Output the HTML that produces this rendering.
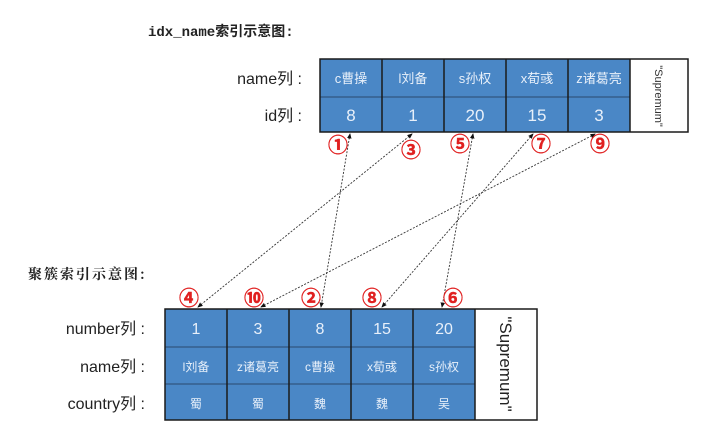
<!DOCTYPE html>
<html><head><meta charset="utf-8"><style>
body{margin:0;background:#fff;width:720px;height:439px;overflow:hidden}
svg text{font-family:"Liberation Sans","Noto Sans CJK SC",sans-serif}
</style></head><body>
<svg width="720" height="439" viewBox="0 0 720 439" xmlns="http://www.w3.org/2000/svg">
<defs>
<marker id="a" markerWidth="6" markerHeight="6" refX="5" refY="3" orient="auto"><path d="M0,0.5 L6,3 L0,5.5z" fill="#111"/></marker>
<marker id="b" markerWidth="6" markerHeight="6" refX="1" refY="3" orient="auto"><path d="M6,0.5 L0,3 L6,5.5z" fill="#111"/></marker>
</defs>
<text x="148" y="36" font-size="14" font-weight="bold" style="font-family:'Liberation Mono','Noto Sans CJK SC',monospace" fill="#222">idx_name索引示意图:</text>
<text x="28" y="279" font-size="14" font-weight="bold" style="font-family:'Noto Serif CJK SC',serif" fill="#222" letter-spacing="2">聚簇索引示意图:</text>
<g font-size="16" fill="#222" text-anchor="end">
<text x="302" y="84">name列 :</text>
<text x="302" y="121">id列 :</text>
<text x="145" y="334">number列 :</text>
<text x="145" y="372">name列 :</text>
<text x="145" y="409">country列 :</text>
</g>
<!-- top table -->
<rect x="320" y="59" width="310" height="73" fill="#4a87c6"/>
<rect x="630" y="59" width="58" height="73" fill="#fff"/>
<g stroke="#2a4a6e" stroke-width="1"><line x1="320" y1="97" x2="630" y2="97"/></g>
<g stroke="#1a1a1a" stroke-width="1.5" fill="none">
<rect x="320" y="59" width="368" height="73"/>
<line x1="382" y1="59" x2="382" y2="132"/><line x1="444" y1="59" x2="444" y2="132"/>
<line x1="506" y1="59" x2="506" y2="132"/><line x1="568" y1="59" x2="568" y2="132"/>
<line x1="630" y1="59" x2="630" y2="132"/>
</g>
<g fill="#e8f0fa" text-anchor="middle" font-size="13">
<text x="351" y="83">c曹操</text><text x="413" y="83">l刘备</text><text x="475" y="83">s孙权</text><text x="537" y="83">x荀彧</text><text x="599" y="83">z诸葛亮</text>
</g>
<g fill="#e8f0fa" text-anchor="middle" font-size="17">
<text x="351" y="121">8</text><text x="413" y="121">1</text><text x="475" y="121">20</text><text x="537" y="121">15</text><text x="599" y="121">3</text>
</g>
<text transform="translate(655,96) rotate(90)" text-anchor="middle" font-size="11" fill="#333">"Supremum"</text>
<!-- bottom table -->
<rect x="165" y="309" width="310" height="111" fill="#4a87c6"/>
<g stroke="#2a4a6e" stroke-width="1"><line x1="165" y1="347" x2="475" y2="347"/><line x1="165" y1="384" x2="475" y2="384"/></g>
<g stroke="#1a1a1a" stroke-width="1.5" fill="none">
<rect x="165" y="309" width="372" height="111"/>
<line x1="227" y1="309" x2="227" y2="420"/><line x1="289" y1="309" x2="289" y2="420"/>
<line x1="351" y1="309" x2="351" y2="420"/><line x1="413" y1="309" x2="413" y2="420"/>
<line x1="475" y1="309" x2="475" y2="420"/>
</g>
<g fill="#e8f0fa" text-anchor="middle" font-size="16">
<text x="196" y="334">1</text><text x="258" y="334">3</text><text x="320" y="334">8</text><text x="382" y="334">15</text><text x="444" y="334">20</text>
</g>
<g fill="#e8f0fa" text-anchor="middle" font-size="12">
<text x="196" y="371">l刘备</text><text x="258" y="371">z诸葛亮</text><text x="320" y="371">c曹操</text><text x="382" y="371">x荀彧</text><text x="444" y="371">s孙权</text>
<text x="196" y="408">蜀</text><text x="258" y="408">蜀</text><text x="320" y="408">魏</text><text x="382" y="408">魏</text><text x="444" y="408">吴</text>
</g>
<text transform="translate(500,364) rotate(90)" text-anchor="middle" font-size="17" fill="#222">"Supremum"</text>
<!-- connectors -->
<g stroke="#333" stroke-width="0.9" stroke-dasharray="2,1.5" marker-start="url(#b)" marker-end="url(#a)">
<line x1="350" y1="134" x2="321" y2="307"/>
<line x1="412" y1="134" x2="198" y2="307"/>
<line x1="473" y1="134" x2="442" y2="307"/>
<line x1="533" y1="134" x2="382" y2="307"/>
<line x1="595" y1="134" x2="261" y2="307"/>
</g>
<g fill="#e02020" font-size="20" font-weight="bold" text-anchor="middle" stroke="#e02020" stroke-width="0.4">
<text x="338" y="152">①</text><text x="411" y="157">③</text><text x="460" y="151">⑤</text><text x="541" y="151">⑦</text><text x="600" y="151">⑨</text>
<text x="189" y="305">④</text><text x="254" y="305">⑩</text><text x="311" y="305">②</text><text x="372" y="305">⑧</text><text x="453" y="305">⑥</text>
</g>
</svg>
</body></html>
